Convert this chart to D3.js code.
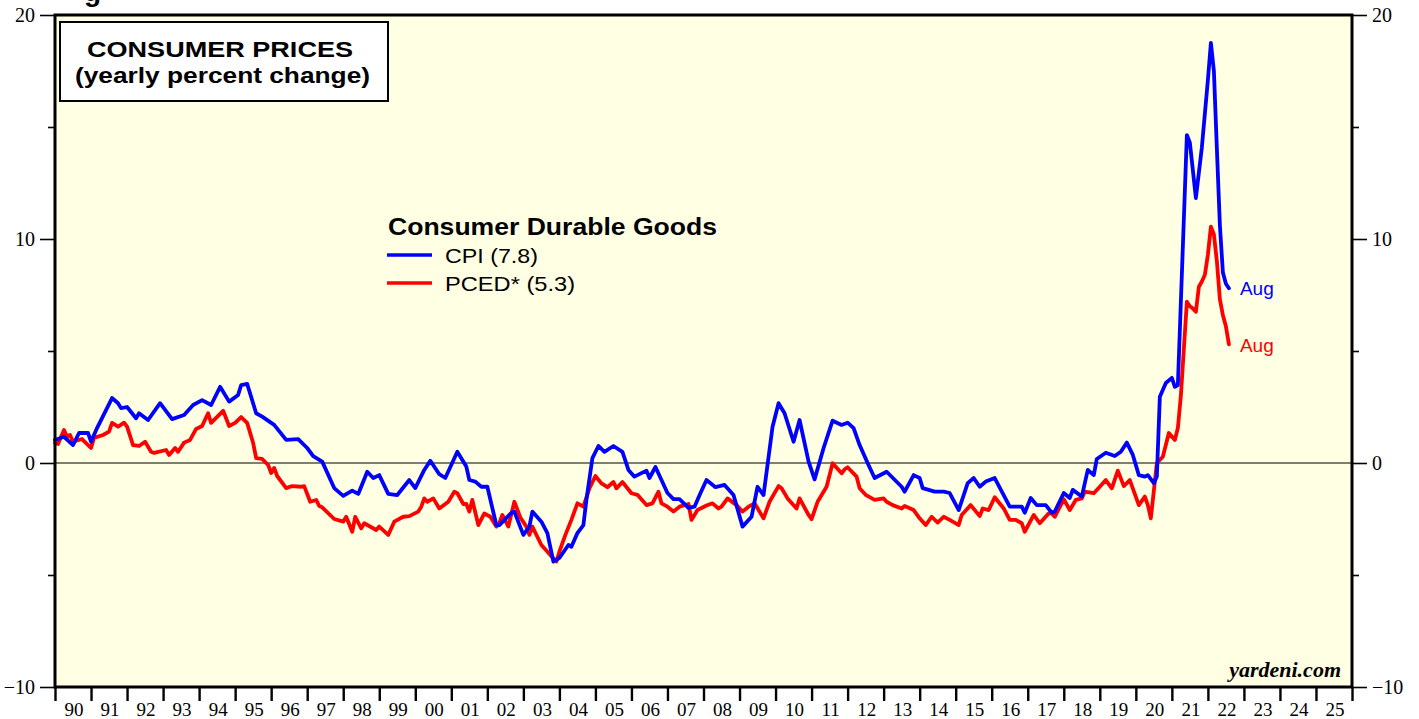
<!DOCTYPE html>
<html>
<head>
<meta charset="utf-8">
<script src="https://cdn.jsdelivr.net/npm/d3@7"></script>
<style>
  body { margin: 0; background: #fff; }
  svg { display: block; }
</style>
</head>
<body>
<svg id="chart" width="1419" height="719"></svg>
<script>
// months counted from Jan 1990 (0 = Jan 1990)
var cpiMonths = [0,3,6,8,11,12,14,19,21,22,24,27,28,31,35,39,43,46,49,52,55,58,61,62,64,67,69,73,77,81,84,86,89,93,96,99,101,104,106,108,111,114,118,120,123,125,128,130,134,137,138,140,142,144,147,148,152,153,156,158,159,162,164,166,168,171,172,174,176,177,179,181,183,186,189,191,193,197,198,200,202,204,206,208,211,213,215,217,220,223,226,229,232,234,236,239,241,243,246,248,251,253,256,259,262,264,266,268,271,273,277,282,283,286,288,289,293,296,298,301,304,306,308,310,313,318,322,323,325,327,330,332,333,336,338,339,342,344,346,347,350,353,355,357,359,361,363,364,366,367,368,370,372,373,374,377,378,380,382,384,385,386,387,388,389,390,391];
var cpiValues = [1.03,1.17,0.8,1.34,1.34,0.95,1.56,2.9,2.67,2.45,2.5,2.0,2.22,1.92,2.67,1.96,2.14,2.59,2.81,2.59,3.4,2.74,3.04,3.48,3.53,2.22,2.07,1.7,1.03,1.07,0.67,0.31,0.06,-1.12,-1.47,-1.23,-1.38,-0.39,-0.67,-0.54,-1.38,-1.43,-0.76,-1.12,-0.31,0.1,-0.5,-0.67,0.5,-0.16,-0.76,-0.83,-1.06,-1.06,-2.77,-2.77,-2.23,-2.17,-3.21,-2.84,-2.17,-2.62,-3.13,-4.4,-4.24,-3.66,-3.74,-3.13,-2.77,-1.65,0.22,0.76,0.5,0.76,0.5,-0.31,-0.61,-0.34,-0.67,-0.18,-0.76,-1.34,-1.61,-1.61,-2.0,-1.95,-1.34,-0.76,-1.08,-0.98,-1.43,-2.84,-2.4,-1.06,-1.43,1.62,2.67,2.22,0.95,1.92,0.06,-0.73,0.67,1.89,1.7,1.8,1.56,0.8,-0.1,-0.67,-0.39,-1.06,-1.28,-0.54,-0.67,-1.12,-1.28,-1.28,-1.34,-2.1,-0.9,-0.67,-1.06,-0.83,-0.67,-1.95,-1.95,-2.22,-1.56,-1.88,-1.88,-2.22,-2.17,-1.34,-1.56,-1.2,-1.5,-0.31,-0.54,0.18,0.46,0.31,0.5,0.91,0.36,-0.54,-0.61,-0.54,-0.9,-0.6,2.96,3.57,3.8,3.4,3.48,14.64,14.3,11.83,14.1,17.1,18.75,17.5,14.0,10.6,8.5,8.0,7.8];

var pcedMonths = [0,1,3,4,5,6,9,12,13,16,18,19,21,23,24,26,28,30,32,33,37,38,40,41,43,45,47,49,51,52,56,58,60,62,64,66,67,69,71,72,73,74,77,79,82,83,85,87,88,89,93,96,97,99,100,102,103,107,108,109,111,113,116,118,121,122,123,124,126,128,131,133,134,136,137,138,139,141,143,145,147,148,149,151,153,155,157,158,159,162,163,166,167,168,170,172,174,176,178,180,182,184,186,187,189,192,194,197,199,201,202,204,206,208,211,212,214,217,219,221,222,224,227,229,231,233,236,238,241,242,244,247,248,251,252,254,257,259,262,263,264,267,268,270,273,276,277,279,282,283,286,288,290,292,294,296,298,301,302,305,308,309,311,313,316,318,320,322,323,326,328,331,332,333,336,338,340,342,343,346,348,350,352,354,356,358,361,363,364,365,367,369,371,373,374,375,377,378,379,380,381,382,383,384,385,386,387,388,389,390,391];
var pcedValues = [0.89,0.85,1.47,1.17,1.25,0.95,1.07,0.67,1.12,1.25,1.4,1.79,1.62,1.8,1.62,0.8,0.76,0.95,0.5,0.45,0.58,0.36,0.67,0.5,0.91,1.03,1.52,1.65,2.22,1.79,2.33,1.65,1.79,2.05,1.79,0.89,0.22,0.18,-0.09,-0.45,-0.22,-0.58,-1.12,-1.03,-1.06,-1.03,-1.73,-1.65,-1.92,-1.98,-2.5,-2.62,-2.4,-3.07,-2.4,-2.92,-2.69,-2.99,-2.84,-2.96,-3.21,-2.62,-2.4,-2.37,-2.17,-1.95,-1.58,-1.73,-1.58,-2.03,-1.73,-1.28,-1.35,-1.83,-1.83,-2.17,-1.65,-2.77,-2.25,-2.4,-2.84,-2.69,-2.32,-2.84,-1.73,-2.43,-2.84,-3.21,-2.84,-3.66,-3.81,-4.26,-4.4,-3.96,-3.21,-2.54,-1.8,-1.95,-1.13,-0.58,-0.91,-1.08,-0.85,-1.13,-0.85,-1.35,-1.42,-1.88,-1.8,-1.28,-1.8,-1.95,-2.17,-1.95,-1.83,-2.54,-2.1,-1.9,-1.8,-2.03,-1.95,-1.58,-1.88,-2.17,-1.95,-1.8,-2.47,-1.73,-1.03,-1.13,-1.58,-2.03,-1.58,-2.32,-2.51,-1.73,-1.06,-0.01,-0.46,-0.28,-0.19,-0.61,-1.13,-1.42,-1.65,-1.58,-1.73,-1.88,-2.03,-1.92,-2.1,-2.47,-2.77,-2.4,-2.66,-2.4,-2.54,-2.77,-2.32,-1.88,-2.37,-2.03,-2.1,-1.53,-2.03,-2.54,-2.54,-2.69,-3.07,-2.32,-2.69,-2.25,-2.25,-2.4,-1.62,-2.1,-1.65,-1.58,-1.28,-1.35,-1.06,-0.76,-1.13,-0.34,-1.03,-0.76,-1.88,-1.5,-1.88,-2.47,0.0,0.28,1.34,1.03,1.56,3.0,7.2,7.0,6.9,6.75,7.87,8.1,8.4,9.3,10.55,10.2,9.0,7.3,6.6,6.1,5.3];

var yearLabels = ["90","91","92","93","94","95","96","97","98","99","00","01","02","03","04","05","06","07","08","09","10","11","12","13","14","15","16","17","18","19","20","21","22","23","24","25"];
var yTicks = [-10,0,10,20];
var yMinorTicks = [-5,5,15];
var seriesNames = ["CPI (7.8)","PCED* (5.3)"];
var seriesColors = ["#0000ff","#ff0000"];

var svg = d3.select("#chart");
var plotL = 55, plotR = 1352, plotT = 15, plotB = 687;

var x = d3.scaleLinear().domain([0, yearLabels.length*12]).range([plotL, plotR]);
var y = d3.scaleLinear().domain([-10, 20]).range([plotB, plotT]);

// plot background
svg.append("rect")
	.attr("x", plotL).attr("y", plotT)
	.attr("width", plotR-plotL).attr("height", plotB-plotT)
	.attr("fill", "#ffffe3");

// cut-off header on top edge
svg.append("text")
	.attr("x", 84).attr("y", 1)
	.attr("font-family", "Liberation Sans, Arial, sans-serif")
	.attr("font-weight", "bold")
	.attr("font-size", 28)
	.text("g");

// zero line
svg.append("line")
	.attr("x1", plotL).attr("x2", plotR)
	.attr("y1", y(0)).attr("y2", y(0))
	.attr("stroke", "#000").attr("stroke-width", 1.2);

// series
function drawSeries(months, values, color){
	var pts = months.map(function(m, i){ return [m, values[i]]; });
	var line = d3.line()
		.x(function(d){ return x(d[0]); })
		.y(function(d){ return y(d[1]); });
	svg.append("path")
		.datum(pts)
		.attr("d", line)
		.attr("fill", "none")
		.attr("stroke", color)
		.attr("stroke-width", 3.8)
		.attr("stroke-linejoin", "round")
		.attr("stroke-linecap", "round");
}
drawSeries(pcedMonths, pcedValues, seriesColors[1]);
drawSeries(cpiMonths, cpiValues, seriesColors[0]);

// frame
svg.append("rect")
	.attr("x", plotL).attr("y", plotT)
	.attr("width", plotR-plotL).attr("height", plotB-plotT)
	.attr("fill", "none")
	.attr("stroke", "#000").attr("stroke-width", 3);

var serif = "Liberation Serif, Times New Roman, serif";

// y axes, both sides
var yLeft = svg.append("g").attr("transform", "translate(" + plotL + ",0)")
	.call(d3.axisLeft(y).tickValues(yTicks).tickSize(15).tickPadding(5).tickFormat(d3.format("d")));
var yLeftMinor = svg.append("g").attr("transform", "translate(" + plotL + ",0)")
	.call(d3.axisLeft(y).tickValues(yMinorTicks).tickSize(7).tickFormat(""));
var yRight = svg.append("g").attr("transform", "translate(" + plotR + ",0)")
	.call(d3.axisRight(y).tickValues(yTicks).tickSize(15).tickPadding(5).tickFormat(d3.format("d")));
var yRightMinor = svg.append("g").attr("transform", "translate(" + plotR + ",0)")
	.call(d3.axisRight(y).tickValues(yMinorTicks).tickSize(7).tickFormat(""));

// x axis: year ticks, labels between
var xAxis = svg.append("g").attr("transform", "translate(0," + plotB + ")")
	.call(d3.axisBottom(x).tickValues(d3.range(0, yearLabels.length*12+1, 12)).tickSize(14).tickFormat(""));

[yLeft, yLeftMinor, yRight, yRightMinor, xAxis].forEach(function(g){
	g.select(".domain").remove();
	g.selectAll(".tick line").attr("stroke", "#000").attr("stroke-width", 1.6);
	g.selectAll(".tick text")
		.attr("font-family", serif)
		.attr("font-size", 20)
		.attr("fill", "#000");
});
xAxis.selectAll(".tick line").attr("stroke-width", 2.4);

svg.append("g").selectAll("text")
	.data(yearLabels)
	.enter().append("text")
	.attr("x", function(d, i){ return x(i*12+6) + 1; })
	.attr("y", 716)
	.attr("text-anchor", "middle")
	.attr("font-family", serif)
	.attr("font-size", 19)
	.text(function(d){ return d; });

// title box
svg.append("rect")
	.attr("x", 60).attr("y", 22)
	.attr("width", 328).attr("height", 79)
	.attr("fill", "#fff")
	.attr("stroke", "#000").attr("stroke-width", 2);
var sans = "Liberation Sans, Arial, sans-serif";
svg.append("text")
	.attr("x", 87).attr("y", 57)
	.attr("font-family", sans).attr("font-weight", "bold").attr("font-size", 22)
	.attr("textLength", 266).attr("lengthAdjust", "spacingAndGlyphs")
	.text("CONSUMER PRICES");
svg.append("text")
	.attr("x", 75).attr("y", 83)
	.attr("font-family", sans).attr("font-weight", "bold").attr("font-size", 22)
	.attr("textLength", 295).attr("lengthAdjust", "spacingAndGlyphs")
	.text("(yearly percent change)");

// legend
svg.append("text")
	.attr("x", 388).attr("y", 235)
	.attr("font-family", sans).attr("font-weight", "bold").attr("font-size", 23)
	.attr("textLength", 329).attr("lengthAdjust", "spacingAndGlyphs")
	.text("Consumer Durable Goods");
var legendWidths = [93, 130];
var legend = svg.append("g").selectAll("g")
	.data(seriesNames)
	.enter().append("g")
	.attr("transform", function(d, i){ return "translate(387," + (255 + i*28) + ")"; });
legend.append("line")
	.attr("x1", 0).attr("x2", 45)
	.attr("stroke", function(d, i){ return seriesColors[i]; })
	.attr("stroke-width", 3.5);
legend.append("text")
	.attr("x", 58).attr("y", 8)
	.attr("font-family", sans).attr("font-size", 21)
	.attr("textLength", function(d, i){ return legendWidths[i]; })
	.attr("lengthAdjust", "spacingAndGlyphs")
	.text(function(d){ return d; });

// end labels
var lastCpi = cpiValues[cpiValues.length-1], lastPced = pcedValues[pcedValues.length-1];
svg.append("text")
	.attr("x", x(cpiMonths[cpiMonths.length-1]) + 11).attr("y", y(lastCpi) + 7)
	.attr("fill", seriesColors[0])
	.attr("font-family", sans).attr("font-size", 19)
	.text("Aug");
svg.append("text")
	.attr("x", x(pcedMonths[pcedMonths.length-1]) + 11).attr("y", y(lastPced) + 8)
	.attr("fill", seriesColors[1])
	.attr("font-family", sans).attr("font-size", 19)
	.text("Aug");

svg.append("text")
	.attr("x", 1341).attr("y", 677)
	.attr("text-anchor", "end")
	.attr("font-family", serif).attr("font-weight", "bold").attr("font-style", "italic").attr("font-size", 22)
	.text("yardeni.com");
</script>
</body>
</html>
